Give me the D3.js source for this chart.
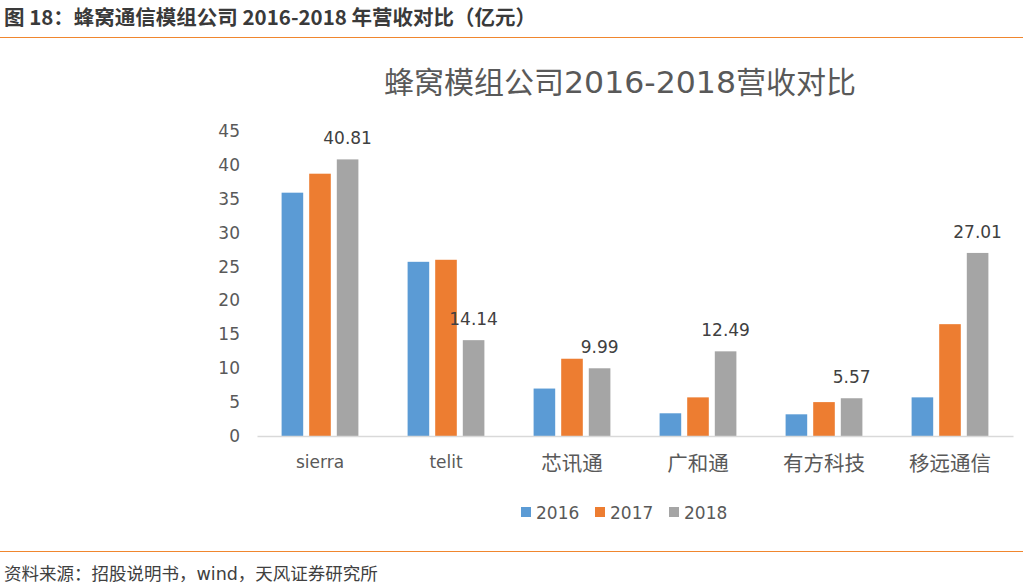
<!DOCTYPE html>
<html><head><meta charset="utf-8">
<script src="https://cdn.jsdelivr.net/npm/d3@7"></script>
<style>body{margin:0;background:#fff;}svg{display:block;}</style>
</head><body>
<svg id="c" width="1023" height="586"></svg>
<script>
const categories = ["sierra","telit","芯讯通","广和通","有方科技","移远通信"];
const years = ["2016","2017","2018"];
const v2016 = [35.9, 25.7, 7.0, 3.35, 3.2, 5.7];
const v2017 = [38.7, 26.0, 11.4, 5.7, 5.0, 16.5];
const v2018 = [40.81, 14.14, 9.99, 12.49, 5.57, 27.01];
const yTicks = [0,5,10,15,20,25,30,35,40,45];
const colors = ["#5B9BD5","#ED7D31","#A5A5A5"];
const series = [v2016, v2017, v2018];

const svg = d3.select("#c");
const font = "'DejaVu Sans','Noto Sans CJK SC',sans-serif";
const cjkFont = "'Noto Sans CJK SC',sans-serif";
const isCJK = s => /[\u4e00-\u9fff]/.test(s);

// header
svg.append("text").attr("x",4).attr("y",25).attr("font-family",cjkFont).attr("font-size",20.5)
  .attr("font-weight","bold").attr("fill","#3a3a3a").text("图 18：蜂窝通信模组公司 2016-2018 年营收对比（亿元）");
svg.append("line").attr("x1",0).attr("x2",1023).attr("y1",37.5).attr("y2",37.5).attr("stroke","#F0862E").attr("stroke-width",1.2);
svg.append("line").attr("x1",0).attr("x2",1023).attr("y1",551.5).attr("y2",551.5).attr("stroke","#F0862E").attr("stroke-width",1.2);
svg.append("text").attr("x",4).attr("y",580).attr("font-family",font).attr("font-size",17.5)
  .attr("fill","#404040").text("资料来源：招股说明书，wind，天风证券研究所");

// title
const t = svg.append("text").attr("x",620).attr("y",93).attr("text-anchor","middle")
  .attr("font-family",cjkFont).attr("font-size",30).attr("fill","#595959");
t.append("tspan").text("蜂窝模组公司");
t.append("tspan").attr("font-family","'DejaVu Sans',sans-serif").attr("textLength",172).attr("lengthAdjust","spacingAndGlyphs").text("2016-2018");
t.append("tspan").text("营收对比");

const x = d3.scaleBand().domain(categories).range([257,1013]);
const y = d3.scaleLinear().domain([0,45]).range([436,131]);
const barW = 21.6, gap = 6;
const xs = d3.scaleBand().domain(years).range([0, 3*barW+2*gap]).paddingInner(gap/(barW+gap));

// y axis
const ya = svg.append("g").attr("transform","translate(240,0)")
  .call(d3.axisLeft(y).tickValues(yTicks).tickSize(0).tickPadding(0));
ya.select(".domain").remove();
ya.selectAll("text").attr("font-family",font).attr("font-size",17).attr("fill","#595959");

// bars
years.forEach((yr,i)=>{
  svg.append("g").selectAll("rect").data(series[i]).join("rect")
    .attr("x",(d,j)=>x(categories[j])+x.bandwidth()/2-xs.range()[1]/2+xs(yr))
    .attr("width",xs.bandwidth())
    .attr("y",d=>y(d)).attr("height",d=>y(0)-y(d))
    .attr("fill",colors[i]);
});
// labels on 2018
svg.append("g").selectAll("text").data(v2018).join("text")
  .attr("x",(d,j)=>x(categories[j])+x.bandwidth()/2-xs.range()[1]/2+xs("2018")+xs.bandwidth()/2)
  .attr("y",d=>y(d)-15)
  .attr("text-anchor","middle").attr("font-family",font).attr("font-size",17).attr("fill","#404040")
  .text(d=>d.toFixed(2));

// x axis
const xa = svg.append("g").attr("transform","translate(0,436)")
  .call(d3.axisBottom(x).tickSize(0).tickPadding(20));
xa.select(".domain").attr("stroke","#D9D9D9").attr("stroke-width",1.5);
xa.selectAll("text").attr("font-family",d=>isCJK(d)?cjkFont:font)
  .attr("font-size",d=>isCJK(d)?20.5:17).attr("fill","#595959");

// legend
const lx = [521, 595, 669];
years.forEach((yr,i)=>{
  svg.append("rect").attr("x",lx[i]).attr("y",507).attr("width",10).attr("height",10).attr("fill",colors[i]);
  svg.append("text").attr("x",lx[i]+15).attr("y",519).attr("font-family",font).attr("font-size",17)
    .attr("fill","#595959").text(yr);
});
</script>
</body></html>
